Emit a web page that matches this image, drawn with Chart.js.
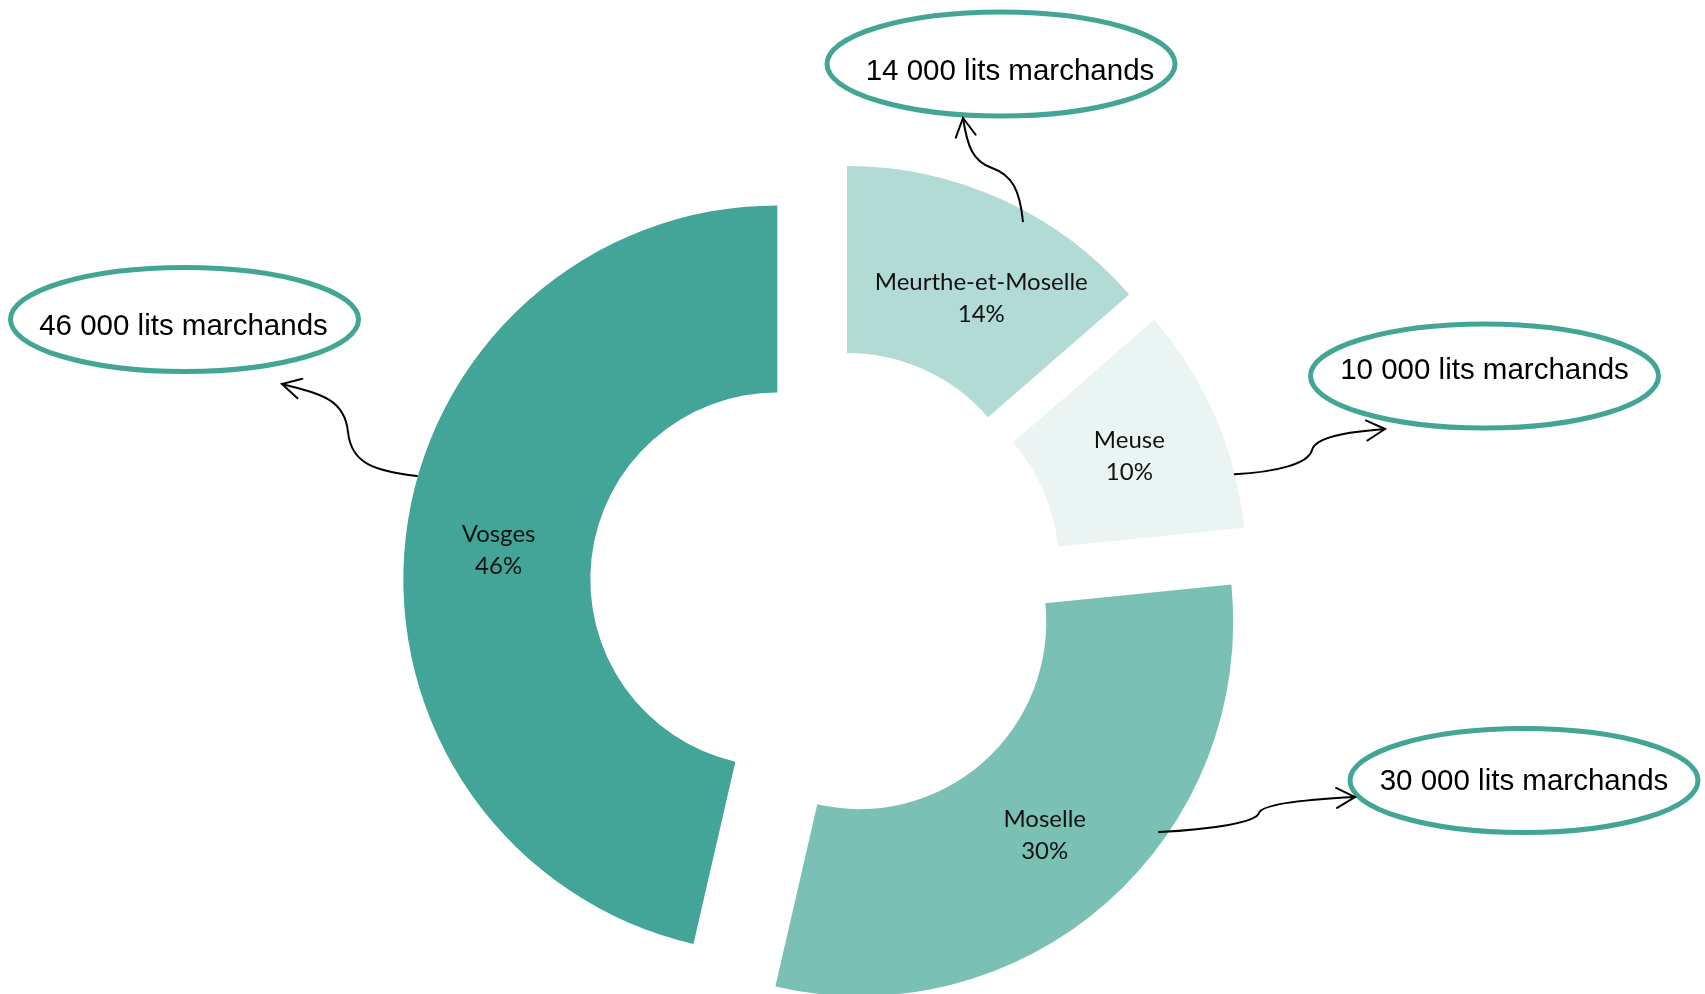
<!DOCTYPE html>
<html lang="fr">
<head>
<meta charset="utf-8">
<title>Lits marchands par département</title>
<script src="https://cdn.jsdelivr.net/npm/chart.js@4.4.1/dist/chart.umd.min.js"></script>
<style>
  html, body { margin: 0; padding: 0; background: #fff; }
  #wrap { width: 1705px; height: 994px; position: relative; }
</style>
</head>
<body>
<div id="wrap"><canvas id="litsChart"></canvas></div>
<script>
const departements = ['Meurthe-et-Moselle', 'Meuse', 'Moselle', 'Vosges'];
const parts = [13.6, 9.8, 30.2, 46.4];
const lits = [14000, 10000, 30000, 46000];
const couleurs = ['#b2dbd5', '#eaf5f3', '#7bc0b5', '#42a597'];

// bulles : centre de l'ellipse, départ de la flèche sur la part (angle depuis midi, rayon), coude et pointe
const bulles = [
  { ex: 1001, ey: 64, tx: 9, ty: 16, ang: 28.9, rad: 364,
    mid: [992, 168], tip: [963, 118], t0: [-0.1, -1], tm: [-1, -0.35], t1: [-0.15, -1], hm: 0.35 },
  { ex: 1484.5, ey: 376, tx: 0, ty: 3, ang: 75.9, rad: 374,
    mid: [1312, 450], tip: [1385, 429], t0: [1, -0.05], tm: [0.25, -1], t1: [1, -0.08], hm: 0.18 },
  { ex: 1524, ey: 780.5, tx: 0, ty: 9.5, ang: 125, rad: 366,
    mid: [1259, 813], tip: [1355, 797], t0: [1, -0.05], tm: [0.3, -1], t1: [1, -0.05], hm: 0.1 },
  { ex: 184.5, ey: 319.5, tx: -1, ty: 15.5, ang: 286, rad: 375,
    mid: [348, 432], tip: [282, 384], t0: [-1, -0.12], tm: [-0.1, -1], t1: [-1, -0.25], hm: 0.4 }
];
const decalageLabels = [[18, 11], [0, 0], [0, 0], [0, 0]];
const ECART = 49.5;

function unit(v) {
  const l = Math.hypot(v[0], v[1]);
  return [v[0] / l, v[1] / l];
}

function fleche(ctx, S, b) {
  const M = b.mid, T = b.tip;
  const t0 = unit(b.t0), tm = unit(b.tm), t1 = unit(b.t1);
  const d1 = Math.hypot(M[0] - S[0], M[1] - S[1]);
  const d2 = Math.hypot(T[0] - M[0], T[1] - M[1]);
  ctx.beginPath();
  ctx.moveTo(S[0], S[1]);
  ctx.bezierCurveTo(S[0] + t0[0] * d1 * 0.5, S[1] + t0[1] * d1 * 0.5,
    M[0] - tm[0] * d1 * b.hm, M[1] - tm[1] * d1 * b.hm, M[0], M[1]);
  ctx.bezierCurveTo(M[0] + tm[0] * d2 * b.hm, M[1] + tm[1] * d2 * b.hm,
    T[0] - t1[0] * d2 * 0.5, T[1] - t1[1] * d2 * 0.5, T[0], T[1]);
  ctx.stroke();
  const a = Math.atan2(t1[1], t1[0]);
  ctx.beginPath();
  ctx.moveTo(T[0] - 21 * Math.cos(a - 0.5), T[1] - 21 * Math.sin(a - 0.5));
  ctx.lineTo(T[0], T[1]);
  ctx.lineTo(T[0] - 21 * Math.cos(a + 0.5), T[1] - 21 * Math.sin(a + 0.5));
  ctx.stroke();
}

const eclate = {
  id: 'eclate',
  beforeDatasetsDraw(chart) {
    const area = chart.chartArea;
    const cx = (area.left + area.right) / 2;
    const cy = (area.top + area.bottom) / 2;
    chart.getDatasetMeta(0).data.forEach(arc => {
      const mid = (arc.startAngle + arc.endAngle) / 2;
      arc.x = cx + ECART * Math.cos(mid);
      arc.y = cy + ECART * Math.sin(mid);
    });
  },
  afterDatasetsDraw(chart) {
    const ctx = chart.ctx;
    const arcs = chart.getDatasetMeta(0).data;
    ctx.save();

    // étiquettes des parts
    ctx.fillStyle = '#111';
    ctx.textAlign = 'center';
    ctx.textBaseline = 'alphabetic';
    ctx.font = '24px Lato';
    arcs.forEach((arc, i) => {
      const mid = (arc.startAngle + arc.endAngle) / 2;
      const r = (arc.innerRadius + arc.outerRadius) / 2;
      const x = arc.x + r * Math.cos(mid) + decalageLabels[i][0];
      const y = arc.y + r * Math.sin(mid) + decalageLabels[i][1];
      ctx.fillText(departements[i], x, y - 6);
      ctx.fillText(Math.round(parts[i]) + '%', x, y + 26);
    });

    // bulles et flèches
    arcs.forEach((arc, i) => {
      const b = bulles[i];
      ctx.beginPath();
      ctx.ellipse(b.ex, b.ey, 174, 52, 0, 0, Math.PI * 2);
      ctx.lineWidth = 5;
      ctx.strokeStyle = '#43a596';
      ctx.stroke();

      ctx.fillStyle = '#000';
      ctx.font = '29.5px "Liberation Sans", Arial, sans-serif';
      const txt = lits[i].toLocaleString('fr-FR').replace(/\s/g, ' ') + ' lits marchands';
      ctx.fillText(txt, b.ex + b.tx, b.ey + b.ty);

      const th = (b.ang - 90) * Math.PI / 180;
      const S = [arc.x + b.rad * Math.cos(th), arc.y + b.rad * Math.sin(th)];
      ctx.lineWidth = 2;
      ctx.strokeStyle = '#000';
      ctx.lineCap = 'round';
      fleche(ctx, S, b);
    });
    ctx.restore();
  }
};

new Chart(document.getElementById('litsChart'), {
  type: 'doughnut',
  data: {
    labels: departements,
    datasets: [{
      data: parts,
      backgroundColor: couleurs,
      borderWidth: 0,
      radius: 374,
      cutout: '50%'
    }]
  },
  options: {
    responsive: true,
    maintainAspectRatio: false,
    animation: false,
    layout: { padding: { left: 0, right: 52, top: 176, bottom: 0 } },
    plugins: {
      legend: { display: false },
      tooltip: { enabled: false }
    }
  },
  plugins: [eclate]
});
</script>
</body>
</html>
